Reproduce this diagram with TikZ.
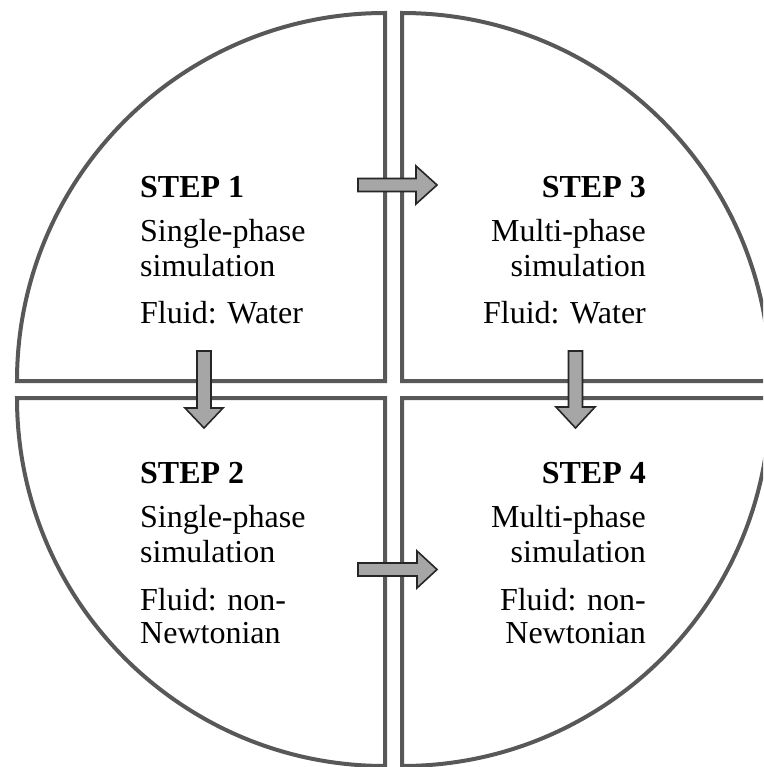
\documentclass[tikz,border=0pt]{standalone}
\usepackage{fontspec}
\setmainfont{Liberation Serif}
\begin{document}
\begin{tikzpicture}[x=1pt,y=-1pt,
  quad/.style={draw=quadline,line width=4pt,line join=miter,fill=white},
  blockarrow/.style={draw=arrowline,fill=arrowfill,line width=1.6pt,line join=miter},
  txt/.style={inner sep=0pt,font=\fontsize{32}{36}\selectfont},
  lt/.style={txt,anchor=base west},
  rt/.style={txt,anchor=base east}]
\definecolor{quadline}{HTML}{585858}
\definecolor{arrowline}{HTML}{262626}
\definecolor{arrowfill}{HTML}{A6A6A6}
\useasboundingbox (0,0) rectangle (763,767);
\clip (0,0) rectangle (763,767);
% quadrants (y axis points down)
\draw[quad] (17,381) arc[start angle=180,end angle=270,radius=368] -- (385,381) -- cycle;
\draw[quad] (402,13) arc[start angle=270,end angle=360,radius=368] -- (402,381) -- cycle;
\draw[quad] (17,398) arc[start angle=180,end angle=90,radius=368] -- (385,398) -- cycle;
\draw[quad] (770,398) arc[start angle=0,end angle=90,radius=368] -- (402,398) -- cycle;
% block arrows
\draw[blockarrow] (358,178.5) -- (416,178.5) -- (416,166) -- (437,185) -- (416,204) -- (416,191.5) -- (358,191.5) -- cycle;
\draw[blockarrow] (358,563) -- (417,563) -- (417,551) -- (437,569.5) -- (417,588) -- (417,576) -- (358,576) -- cycle;
\draw[blockarrow] (197,351) -- (211,351) -- (211,408) -- (223,408) -- (204,428) -- (185,408) -- (197,408) -- cycle;
\draw[blockarrow] (568.5,351) -- (582.5,351) -- (582.5,407) -- (595,407) -- (575.5,428) -- (556,407) -- (568.5,407) -- cycle;
% texts
\node[lt] (s1a) at (140,198) {\textbf{STEP 1}};
\node[lt] (s1b) at (140,241) {Single-phase};
\node[lt] (s1c) at (140,276) {simulation};
\node[lt] (s1d) at (140,323) {Fluid: Water};
\node[rt] (s3a) at (646,198) {\textbf{STEP 3}};
\node[rt] (s3b) at (646,241) {Multi-phase};
\node[rt] (s3c) at (646,276) {simulation};
\node[rt] (s3d) at (646,323) {Fluid: Water};
\node[lt] (s2a) at (140,483) {\textbf{STEP 2}};
\node[lt] (s2b) at (140,527) {Single-phase};
\node[lt] (s2c) at (140,562) {simulation};
\node[lt] (s2d) at (140,610) {Fluid: non-};
\node[lt] (s2e) at (140,643) {Newtonian};
\node[rt] (s4a) at (646,483) {\textbf{STEP 4}};
\node[rt] (s4b) at (646,527) {Multi-phase};
\node[rt] (s4c) at (646,562) {simulation};
\node[rt] (s4d) at (646,610) {Fluid: non-};
\node[rt] (s4e) at (646,643) {Newtonian};
\end{tikzpicture}
\end{document}
